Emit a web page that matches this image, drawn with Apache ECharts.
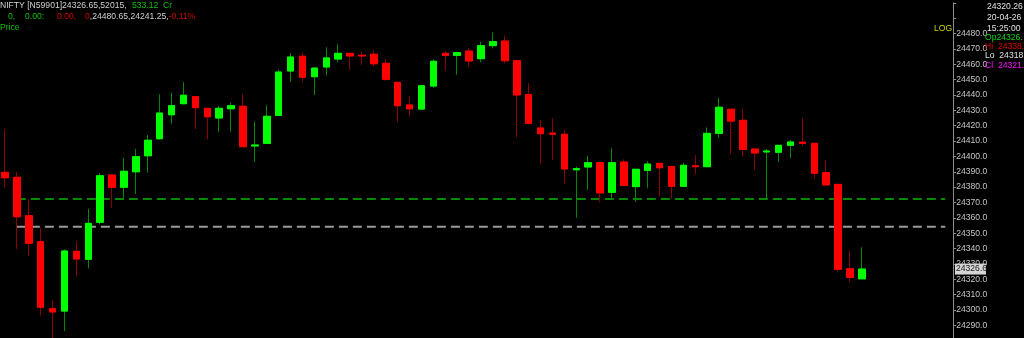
<!DOCTYPE html>
<html><head><meta charset="utf-8">
<script src="https://cdn.jsdelivr.net/npm/echarts@6/dist/echarts.min.js"></script>
<style>html,body{margin:0;padding:0;background:#000;}#c{width:1024px;height:338px;}</style>
</head><body><div id="c"></div>
<script>
const categories = ['09:30','09:35','09:40','09:45','09:50','09:55',
'10:00','10:05','10:10','10:15','10:20','10:25','10:30','10:35','10:40','10:45','10:50','10:55',
'11:00','11:05','11:10','11:15','11:20','11:25','11:30','11:35','11:40','11:45','11:50','11:55',
'12:00','12:05','12:10','12:15','12:20','12:25','12:30','12:35','12:40','12:45','12:50','12:55',
'13:00','13:05','13:10','13:15','13:20','13:25','13:30','13:35','13:40','13:45','13:50','13:55',
'14:00','14:05','14:10','14:15','14:20','14:25','14:30','14:35','14:40','14:45','14:50','14:55',
'15:00','15:05','15:10','15:15','15:20','15:25','15:30'];
const futureSlots = ['15:35','15:40','15:45','15:50','15:55','16:00','16:05'];
const opens = [24389.6,24386.4,24361.4,24344.5,24300.8,24299.3,24338.2,24333.0,24357.1,24387.9,
24379.9,24390.0,24400.4,24411.5,24427.1,24434.3,24438.9,24431.3,24425.0,24431.0,
24432.6,24406.8,24408.5,24426.7,24455.6,24465.2,24451.9,24458.2,24463.4,24467.1,
24465.8,24466.5,24460.6,24448.2,24433.5,24430.8,24445.8,24467.1,24465.8,24468.6,
24463.6,24472.1,24475.1,24462.3,24440.2,24418.5,24415.2,24414.4,24391.3,24393.1,
24395.9,24376.6,24396.3,24380.3,24390.9,24395.5,24393.3,24380.5,24393.9,24393.3,
24415.0,24430.7,24423.5,24404.8,24402.9,24402.7,24407.2,24409.2,24408.5,24389.4,
24381.8,24326.8,24320.3];
const closes = [24386.1,24360.7,24343.4,24301.8,24298.7,24338.4,24333.2,24356.4,24387.4,24379.9,
24390.3,24399.8,24410.5,24428.2,24433.0,24439.8,24431.7,24425.8,24431.3,24433.0,
24406.3,24407.4,24426.1,24454.9,24464.7,24451.5,24457.5,24464.1,24467.1,24465.4,
24465.4,24460.3,24450.2,24433.0,24431.0,24446.0,24461.9,24465.8,24467.5,24462.1,
24472.1,24474.7,24462.3,24440.0,24421.5,24414.8,24414.4,24391.8,24392.0,24395.9,
24376.2,24395.9,24381.2,24391.6,24395.0,24392.6,24380.5,24394.2,24393.3,24415.0,
24432.0,24423.0,24404.5,24402.2,24403.5,24407.2,24409.4,24408.5,24389.0,24381.4,
24326.5,24321.2,24326.65];
const highs = [24417.6,24390.0,24372.1,24353.6,24306.5,24339.5,24344.7,24365.7,24389.0,24388.2,
24399.1,24404.8,24413.9,24440.4,24441.3,24448.4,24439.0,24431.5,24432.8,24435.0,
24440.4,24422.6,24433.3,24456.7,24467.3,24467.8,24457.7,24471.0,24473.0,24467.3,
24468.2,24469.3,24463.2,24448.4,24438.9,24446.2,24463.2,24468.4,24468.2,24470.4,
24474.7,24480.65,24478.6,24462.5,24447.6,24423.7,24424.8,24417.2,24393.3,24400.3,
24396.2,24405.3,24398.1,24391.8,24396.8,24395.7,24393.5,24395.9,24400.9,24418.8,
24438.1,24430.9,24430.8,24405.0,24404.8,24407.4,24410.7,24424.8,24408.7,24397.6,
24382.0,24338.6,24340.8];
const lows = [24379.6,24339.7,24335.3,24296.3,24281.0,24286.3,24321.7,24327.1,24355.8,24366.6,
24371.6,24375.5,24389.4,24410.7,24421.3,24434.0,24417.8,24411.1,24416.1,24416.1,
24406.0,24396.5,24408.3,24426.5,24448.6,24448.6,24440.0,24452.8,24461.3,24456.4,
24459.5,24458.6,24449.1,24422.6,24426.3,24430.2,24444.5,24455.8,24453.2,24458.4,
24461.3,24470.4,24460.6,24412.2,24420.9,24394.8,24397.6,24382.5,24360.1,24378.3,
24370.1,24372.7,24381.0,24370.5,24379.4,24374.2,24372.7,24380.3,24388.5,24393.0,
24412.2,24401.6,24399.9,24391.3,24372.5,24396.3,24399.0,24406.8,24385.7,24381.2,
24324.9,24318.3,24320.3];
const greenLevel = 24372.3;
const grayLevel = 24354.2;
const yTickMin = 24280, yTickMax = 24500, yTickStep = 10, yLabelTop = 24480, yLabelBottom = 24290;

const FONT = 'Liberation Sans';
const FS = 8.6;
const full = opens.map((o, i) => [o, closes[i], lows[i], highs[i]]);
const bodies = opens.map((o, i) => [o, closes[i], Math.min(o, closes[i]), Math.max(o, closes[i])]);
const lastClose = closes[closes.length - 1];
const allCats = categories.concat(futureSlots);
const lineStart = categories[1], lineEnd = futureSlots[futureSlots.length - 1];

const chart = echarts.init(document.getElementById('c'), null, {renderer: 'canvas'});
function txt(x, y, text, fill) {
  return {type: 'text', x: x, y: y, silent: true, z: 10,
    style: {text: text, fill: fill, font: FS + 'px "' + FONT + '"', verticalAlign: 'middle'}};
}
const W = '#d0d0d0', G = '#10c010', R = '#d00000';
chart.setOption({
  animation: false,
  backgroundColor: '#000000',
  grid: {left: -1, top: 2.8, height: 337.9, right: 72.8, outerBoundsMode: 'none', containLabel: false},
  xAxis: {type: 'category', data: allCats, boundaryGap: true, show: false},
  yAxis: {type: 'value', position: 'right', offset: 2, min: yTickMin, max: yTickMax, interval: yTickStep,
    splitLine: {show: false},
    axisLine: {show: true, lineStyle: {color: '#8c8c8c', width: 1}},
    axisTick: {show: true, length: 3, lineStyle: {color: '#8c8c8c'}},
    axisLabel: {color: '#c4c4c4', fontSize: FS, fontFamily: FONT, margin: 3,
      formatter: v => (v > yLabelTop || v < yLabelBottom ? '' : v.toFixed(1))}},
  series: [
    {name: 'green', type: 'line', data: [[lineStart, greenLevel], [lineEnd, greenLevel]], symbol: 'none', z: 1,
      lineStyle: {color: '#008a00', width: 2, type: [9, 5]}},
    {name: 'gray', type: 'line', data: [[lineStart, grayLevel], [lineEnd, grayLevel]], symbol: 'none', z: 1,
      lineStyle: {color: '#9a9a9a', width: 2, type: [9, 5]}},
    {type: 'candlestick', data: full, barWidth: 7, z: 2,
      itemStyle: {color: '#00ff00', color0: '#ff0000', borderColor: '#008c00', borderColor0: '#8c0000', borderWidth: 1}},
    {type: 'candlestick', data: bodies, barWidth: 7, z: 3,
      itemStyle: {color: '#00ff00', color0: '#ff0000', borderColor: '#00ff00', borderColor0: '#ff0000', borderWidth: 1}}
  ]
});
const priceY = chart.convertToPixel({yAxisIndex: 0}, lastClose);
chart.setOption({
  graphic: [
    txt(0, 6, 'NIFTY [N59901]24326.65,52015,', W),
    txt(132, 6, '533.12', G),
    txt(163, 6, 'Cr', G),
    txt(8, 17, '0,', G),
    txt(25, 17, '0.00:', G),
    txt(57, 17, '0.00,', R),
    {type: 'text', x: 85, y: 17, silent: true,
      style: {text: '{r|0}{w|,24480.65,24241.25,}{r|-0.11%}', verticalAlign: 'middle',
        font: FS + 'px "' + FONT + '"',
        rich: {r: {fill: R, color: R, fontSize: FS, fontFamily: FONT}, w: {fill: W, color: W, fontSize: FS, fontFamily: FONT}}}},
    txt(0, 28, 'Price', G),
    txt(934, 29, 'LOG', '#d0d000'),
    txt(987, 7, '24320.26', '#e0e0e0'),
    txt(987, 18, '20-04-26', '#e0e0e0'),
    txt(987, 29, '15:25:00', '#e0e0e0'),
    txt(985, 38, 'Op24326.', '#10d010'),
    txt(985, 47, 'Hi  24338.', '#e00000'),
    txt(985, 56, 'Lo  24318.', '#e0e0e0'),
    txt(985, 65.5, 'Cl  24321.', '#ff00ff'),
    {type: 'rect', x: 955, y: priceY - 5.5, z: 20, silent: true,
      shape: {width: 31, height: 11}, style: {fill: '#d4d4d4'}},
    {type: 'text', x: 956, y: priceY, z: 21, silent: true,
      style: {text: (Math.floor(lastClose * 10) / 10).toFixed(1), fill: '#202020',
        font: FS + 'px "' + FONT + '"', verticalAlign: 'middle'}}
  ]
});
</script></body></html>
